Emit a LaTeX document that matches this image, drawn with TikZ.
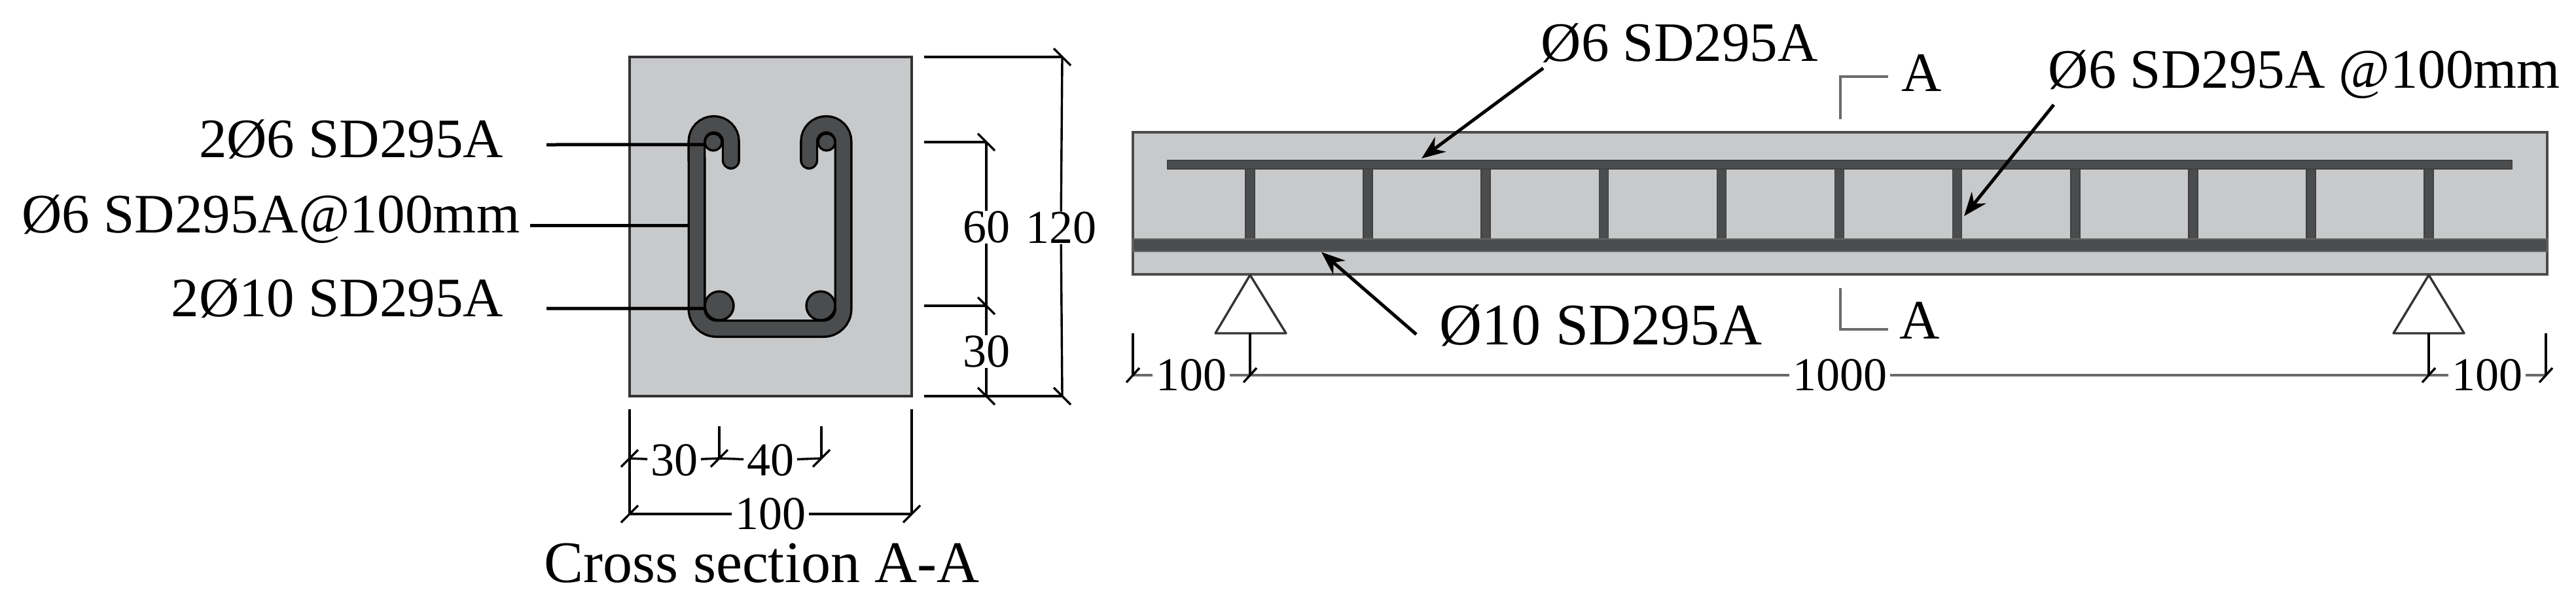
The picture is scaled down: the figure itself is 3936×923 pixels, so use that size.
\documentclass[tikz,border=0pt]{standalone}
\usepackage{fontspec}
\setmainfont{Liberation Serif}
\usepackage{tikz}
\usetikzlibrary{positioning, arrows.meta}
\definecolor{concrete}{HTML}{C8C9CB}
\definecolor{rebar}{HTML}{4B4C4E}
\definecolor{dimgrey}{HTML}{6A6A6A}
\tikzset{
    label text/.style={inner sep=0pt, font=\fontsize{21.25}{25}\selectfont},
    dim text/.style={fill=white, inner xsep=1pt, inner ysep=0pt, font=\fontsize{18}{20}\selectfont},
    leader/.style={line width=1.25pt},
    pointer/.style={line width=1.25pt, -{Stealth[length=9pt, width=7pt]}},
    dim/.style={line width=0.85pt},
    beam dim/.style={line width=1pt, draw=dimgrey},
    hoop/.style={draw=black, line width=0.85pt, double=rebar, double distance=5.3pt, line cap=round},
    longbar/.style={circle, draw=black, fill=rebar, line width=0.85pt, inner sep=0pt, minimum size=11pt},
    hangbar/.style={circle, draw=black, fill=rebar, line width=0.85pt, inner sep=0pt, minimum size=6.5pt},
    support/.style={draw=black!80, fill=white, line width=0.85pt, line join=round}
}
\begin{document}
\begin{tikzpicture}[x=0.25pt, y=-0.25pt]
                \useasboundingbox (0,0) rectangle (3936,923);
                \draw[draw=black!80, fill=concrete, line width=1.2pt] (962,87) rectangle (1393,605);
                \draw[hoop] (1116.8,245) -- (1116.8,216) arc[start angle=0, end angle=180, radius=6.54pt]
                -- (1064.5,472) arc[start angle=180, end angle=270, radius=7.5pt]
                -- (1258.5,502) arc[start angle=270, end angle=360, radius=7.5pt]
                -- (1288.5,216) arc[start angle=0, end angle=180, radius=6.54pt] -- (1236.2,245);
                \node[hangbar] (hang1) at (1090,217) {};
                \node[hangbar] (hang2) at (1263,217) {};
                \node[longbar] (long1) at (1099,467) {};
                \node[longbar] (long2) at (1254,467) {};
                \coordinate (hoopleft) at (1051,344);

                \node[label text, anchor=base east] (top) at (770,240) {2Ø6 SD295A};
                \node[label text, anchor=base east] (mid) at (795,355) {Ø6 SD295A@100mm};
                \node[label text, anchor=base east] (low) at (770,483) {2Ø10 SD295A};
                \coordinate (topfree) at (835,221);
                \coordinate (midfree) at (810,344);
                \coordinate (lowfree) at (835,471);
                \draw[leader]
                (topfree) edge (hang1.195)
                (midfree) edge (hoopleft)
                (lowfree) edge (long1.190);

                \coordinate (e120a) at (1412,87);
                \coordinate (d120a) at (1623,87);
                \coordinate (e120b) at (1412,605);
                \coordinate (d120b) at (1623,605);
                \coordinate (e60a) at (1412,217);
                \coordinate (d60a) at (1507,217);
                \coordinate (e60b) at (1412,467);
                \coordinate (d60b) at (1507,467);
                \coordinate (d30b) at (1507,605);
                \node[dim text] (n120) at (1621,348) {120};
                \node[dim text] (n60) at (1507,347) {60};
                \node[dim text] (n30) at (1507,537) {30};
                \draw[dim]
                (e120a) edge (d120a)
                (e120b) edge (d120b)
                (e60a) edge (d60a)
                (e60b) edge (d60b)
                (d120a) edge (n120)
                (n120) edge (d120b)
                (d60a) edge (n60)
                (n60) edge (d60b)
                (d60b) edge (n30)
                (n30) edge (d30b);
                \foreach \p in {d120a, d120b, d60a, d60b, d30b}
                    \draw[dim] (\p) +(-13,-13) -- +(13,13);

                \coordinate (ew1) at (962,625);
                \coordinate (ew2) at (1393,625);
                \coordinate (dw1) at (962,785);
                \coordinate (dw2) at (1393,785);
                \coordinate (ec1) at (1099,651);
                \coordinate (ec2) at (1255,651);
                \coordinate (dc0) at (962,700);
                \coordinate (dc1) at (1099,700);
                \coordinate (dc2) at (1255,700);
                \node[dim text] (n100) at (1177,785) {100};
                \node[dim text] (na) at (1030,703) {30};
                \node[dim text] (nb) at (1177,703) {40};
                \draw[dim]
                (ew1) edge (dw1)
                (ew2) edge (dw2)
                (ec1) edge (dc1)
                (ec2) edge (dc2)
                (dw1) edge (n100)
                (n100) edge (dw2)
                (dc0) edge (na)
                (na) edge (dc1)
                (dc1) edge (nb)
                (nb) edge (dc2);
                \foreach \p in {dw1, dw2, dc0, dc1, dc2}
                    \draw[dim] (\p) +(-13,13) -- +(13,-13);
                \node[label text, anchor=base, font=\fontsize{22.5}{26}\selectfont] (caption) at (1164,889) {Cross section A-A};

                \draw[draw=black!70, fill=concrete, line width=0.9pt] (1731,202) rectangle (3892,419);
                \foreach \x in {0,...,10}
                    \draw[draw=black!75, fill=rebar, line width=0.4pt] (1903+\x*180.1,251) rectangle (1917+\x*180.1,374);
                \draw[draw=black!75, fill=rebar, line width=0.4pt] (1784,245) rectangle (3838,258);
                \draw[draw=black!60, fill=rebar, line width=0.5pt] (1731,365) rectangle (3892,384);

                \node[label text, anchor=base west] (upper) at (2354,93) {Ø6 SD295A};
                \node[label text, anchor=base west, font=\fontsize{22.5}{26}\selectfont] (lower) at (2199,526) {Ø10 SD295A};
                \node[label text, anchor=base west] (hoops) at (3129,134) {Ø6 SD295A @100mm};
                \coordinate (upperbar) at (2172,242);
                \coordinate (lowerbar) at (2019,385);
                \coordinate (hoopbar) at (3001,330);
                \draw[pointer] (upper.south west) ++(4,8) coordinate (upperfree) -- (upperbar);
                \draw[pointer] (lower.west) ++(-35,14) coordinate (lowerfree) -- (lowerbar);
                \draw[pointer] (hoops.south west) ++(9,9) coordinate (hoopfree) -- (hoopbar);

                \draw[draw=dimgrey, line width=1pt] (2812,182) -- (2812,117) -- (2885,117);
                \draw[draw=dimgrey, line width=0.9pt] (2812,440) -- (2812,503) -- (2885,503);
                \node[label text, anchor=base] (secup) at (2936,139) {A};
                \node[label text, anchor=base] (secdown) at (2933,517) {A};

                \draw[support] (1910,420) -- (1965,509) -- (1857,509) -- cycle;
                \draw[support] (3711,420) -- (3765,509) -- (3657,509) -- cycle;

                \coordinate (s0) at (1731,509);
                \coordinate (s1) at (1910,509);
                \coordinate (s2) at (3711,509);
                \coordinate (s3) at (3890,509);
                \coordinate (b0) at (1731,573);
                \coordinate (b1) at (1910,573);
                \coordinate (b2) at (3711,573);
                \coordinate (b3) at (3890,573);
                \node[dim text] (left) at (1820,573) {100};
                \node[dim text] (span) at (2811,573) {1000};
                \node[dim text] (right) at (3800,573) {100};
                \draw[beam dim]
                (b0) edge (left)
                (left) edge (b1)
                (b1) edge (span)
                (span) edge (b2)
                (b2) edge (right)
                (right) edge (b3);
                \draw[dim]
                (s0) edge (b0)
                (s1) edge (b1)
                (s2) edge (b2)
                (s3) edge (b3);
                \foreach \p in {b0, b1, b2, b3}
                    \draw[dim] (\p) +(-10,11) -- +(10,-11);
\end{tikzpicture}
\end{document}
